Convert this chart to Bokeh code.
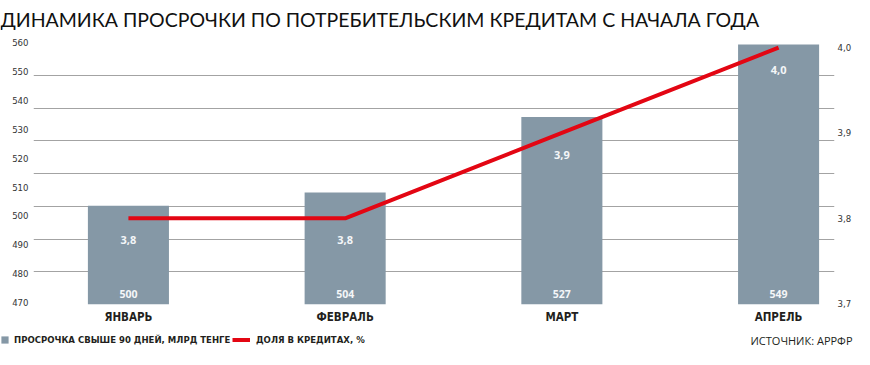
from bokeh.plotting import figure
from bokeh.layouts import column
from bokeh.models import (Range1d, LinearAxis, FixedTicker, Grid, Label, Legend,
                          LegendItem, ColumnDataSource, CustomJSTickFormatter)
from bokeh.core.properties import value
from bokeh.embed import file_html
from bokeh.resources import INLINE

# ---- data ----
title_text = "ДИНАМИКА ПРОСРОЧКИ ПО ПОТРЕБИТЕЛЬСКИМ КРЕДИТАМ С НАЧАЛА ГОДА"
months = ["ЯНВАРЬ", "ФЕВРАЛЬ", "МАРТ", "АПРЕЛЬ"]
overdue = [500, 504, 527, 549]          # млрд тенге
share = [3.8, 3.8, 3.9, 4.0]            # % доля в кредитах
left_ticks = [470, 480, 490, 500, 510, 520, 530, 540, 550, 560]
right_ticks = [3.7, 3.8, 3.9, 4.0]
legend_bar = "ПРОСРОЧКА СВЫШЕ 90 ДНЕЙ, МЛРД ТЕНГЕ"
legend_line = "ДОЛЯ В КРЕДИТАХ, %"
source_text = "ИСТОЧНИК: АРРФР"

# ---- styles ----
NARROW = "'Liberation Sans Narrow', 'DejaVu Sans Condensed', sans-serif"
BAR = "#8598a6"
RED = "#e30613"
GRID = "#a3a3a3"
TXT = "#231f20"

W = 854
H_HEAD, H_MAIN, H_FOOT = 30, 296, 23


def bare(height):
    f = figure(width=W, height=height, output_backend="svg", toolbar_location=None,
               x_range=Range1d(0, W), y_range=Range1d(height, 0),
               x_axis_location=None, y_axis_location=None,
               min_border=0, outline_line_color=None)
    f.xgrid.visible = False
    f.ygrid.visible = False
    return f


# ---- header (title) ----
head = bare(H_HEAD)
head.add_layout(Label(x=0, y=19, text=title_text, text_font="Lato", text_font_size="19.5px",
                      text_color="#111111", text_baseline="alphabetic", text_align="left"))

# ---- main chart ----
xs = list(range(len(months)))
src = ColumnDataSource(dict(
    x=xs, overdue=overdue, share=share, base=[left_ticks[0]] * len(xs),
    share_lbl=[f"{v:.1f}".replace(".", ",") for v in share],
    over_lbl=[str(v) for v in overdue],
))

p = figure(width=W, height=H_MAIN, output_backend="svg", toolbar_location=None,
           x_range=Range1d(-0.438, 3.258), y_range=Range1d(469.3, 560.1),
           min_border_left=33, min_border_right=20, min_border_top=12,
           min_border_bottom=20, background_fill_color="white",
           border_fill_color="white", outline_line_color=None)
p.extra_y_ranges = {"bars": Range1d(left_ticks[0], 549.6),
                    "right": Range1d(3.699, 4.006),
                    "grid": Range1d(0, 8)}
p.xgrid.visible = False
p.ygrid.visible = False

p.add_layout(Grid(dimension=1, y_range_name="grid", ticker=FixedTicker(ticks=list(range(9))),
                  grid_line_color=GRID, grid_line_width=1.2))

ya = p.yaxis[0]
ya.ticker = FixedTicker(ticks=left_ticks)
ya.axis_line_color = None
ya.major_tick_line_color = None
ya.minor_tick_line_color = None
ya.major_tick_out = 0
ya.major_tick_in = 0
ya.major_label_standoff = 5
ya.major_label_text_font = NARROW
ya.major_label_text_font_size = "9.5px"
ya.major_label_text_color = "#333333"

ra = LinearAxis(y_range_name="right", ticker=FixedTicker(ticks=right_ticks),
                formatter=CustomJSTickFormatter(code="return tick.toFixed(1).replace('.', ',');"),
                axis_line_color=None, major_tick_line_color=None, minor_tick_line_color=None,
                major_tick_out=0, major_tick_in=0,
                major_label_standoff=3, major_label_text_font=NARROW,
                major_label_text_font_size="9.5px", major_label_text_color="#333333")
p.add_layout(ra, "right")

xa = p.xaxis[0]
xa.ticker = FixedTicker(ticks=xs)
xa.major_label_overrides = {i: m for i, m in enumerate(months)}
xa.axis_line_color = None
xa.major_tick_line_color = None
xa.minor_tick_line_color = None
xa.major_tick_out = 0
xa.major_tick_in = 0
xa.major_label_standoff = 5
xa.major_label_text_font = NARROW
xa.major_label_text_font_style = "bold"
xa.major_label_text_font_size = "11.5px"
xa.major_label_text_color = TXT

p.vbar(x="x", top="overdue", bottom="base", width=0.374, y_range_name="bars",
       source=src, fill_color=BAR, line_color=None)
p.line(x="x", y="share", y_range_name="right", source=src, line_color=RED, line_width=4)

p.text(x="x", y="share", text="share_lbl", y_range_name="right", source=src,
       y_offset=22, text_align="center", text_baseline="middle", text_color="#f4f6f8",
       text_font=value("Open Sans"), text_font_style="bold", text_font_size="11px")
p.text(x="x", y="base", text="over_lbl", y_range_name="bars", source=src,
       y_offset=-11, text_align="center", text_baseline="middle", text_color="#f4f6f8",
       text_font=value("Open Sans"), text_font_style="bold", text_font_size="10.5px")

# ---- footer (legend + source) ----
foot = bare(H_FOOT)
# legend key renderers (kept outside the visible area; only their style is used)
key_src = ColumnDataSource(dict(x=[-100.0], y=[-100.0]))
leg_bar = foot.vbar(x="x", top="y", width=1, source=key_src, fill_color=BAR, line_color=None)
leg_line = foot.line(x="x", y="y", source=key_src, line_color=RED, line_width=4)

common = dict(orientation="horizontal", glyph_height=9, label_height=10, padding=0,
              margin=0, spacing=0, border_line_color=None, background_fill_alpha=0,
              label_text_font=NARROW, label_text_font_style="bold",
              label_text_font_size="9.5px", label_text_color=TXT)
foot.add_layout(Legend(items=[LegendItem(label=legend_bar, renderers=[leg_bar])],
                       location=(0, 4), glyph_width=9, label_standoff=5, **common))
foot.add_layout(Legend(items=[LegendItem(label=legend_line, renderers=[leg_line])],
                       location=(232, 4), glyph_width=18, label_standoff=6, **common))
foot.add_layout(Label(x=852, y=14, text=source_text, text_font="Open Sans",
                      text_font_size="11px", text_color=TXT, text_baseline="middle",
                      text_align="right"))

# nest header and footer in their own columns so their frames are not aligned
# with the main chart's frame
layout = column(column(head), p, column(foot), spacing=0)
open("out.html", "w").write(file_html(layout, INLINE))
